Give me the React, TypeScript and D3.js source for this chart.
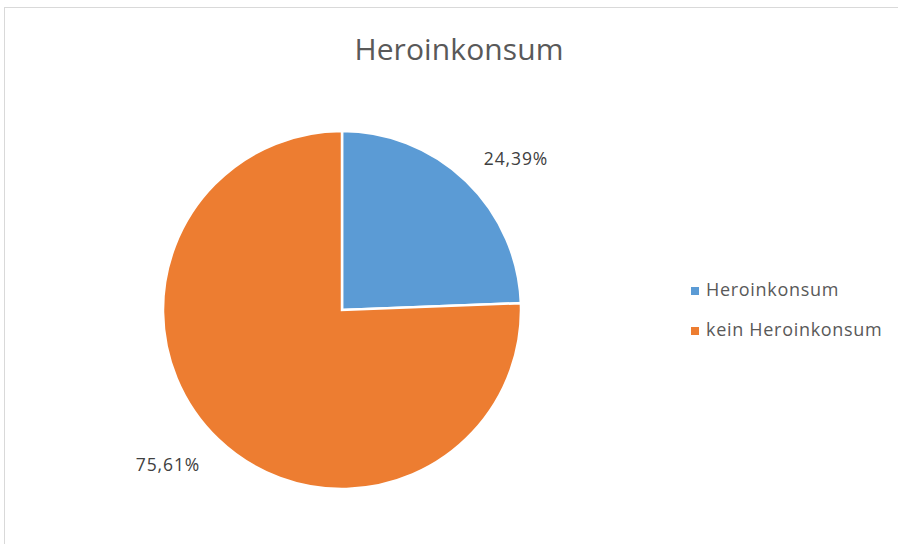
import React from "react";
import * as d3 from "d3";

const categories = ["Heroinkonsum", "kein Heroinkonsum"];
const values = [24.39, 75.61];
const labels = ["24,39%", "75,61%"];
const colors = ["#5B9BD5", "#ED7D31"];
const title = "Heroinkonsum";

export default function App() {
  const W = 898, H = 544;
  const cx = 342, cy = 310, r = 179;
  const pie = d3.pie<number>().sort(null).value((d) => d)(values);
  const arc = d3.arc<d3.PieArcDatum<number>>().innerRadius(0).outerRadius(r);
  const font = "'Open Sans', sans-serif";
  const labelPos: [number, number][] = [[516, 164.5], [168, 471]];
  return (
    <svg width={W} height={H} style={{ position: "absolute", left: 0, top: 0 }}>
      <rect x={4.5} y={7.5} width={W + 10} height={H + 10} fill="#fff" stroke="#d9d9d9" />
      <text x={459} y={59.5} textAnchor="middle" fontFamily={font} fontSize={30} letterSpacing={0.1} fill="#595959">{title}</text>
      <g transform={`translate(${cx},${cy})`}>
        {pie.map((p, i) => (
          <path key={i} d={arc(p) || ""} fill={colors[i]} stroke="#fff" strokeWidth={2.5} strokeLinejoin="miter" />
        ))}
      </g>
      {labels.map((l, i) => (
        <text key={l} x={labelPos[i][0]} y={labelPos[i][1]} textAnchor="middle" fontFamily={font} fontSize={17.5} letterSpacing={0.9} fill="#404040">{l}</text>
      ))}
      {categories.map((c, i) => (
        <g key={c} transform={`translate(691, ${287 + i * 40})`}>
          <rect x={0} y={0} width={8} height={8} fill={colors[i]} />
          <text x={15} y={8.5} fontFamily={font} fontSize={18} letterSpacing={0.7} fill="#595959">{c}</text>
        </g>
      ))}
    </svg>
  );
}
